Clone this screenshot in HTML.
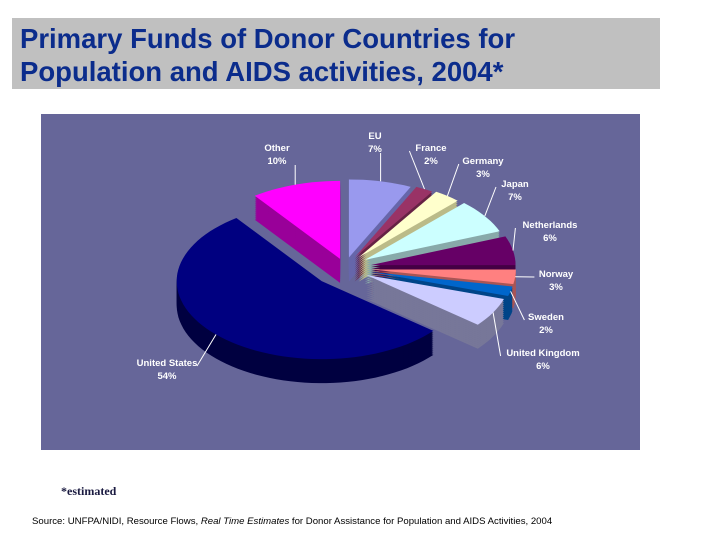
<!DOCTYPE html>
<html><head><meta charset="utf-8">
<style>
body{margin:0;width:720px;height:540px;background:#fff;overflow:hidden;font-family:"Liberation Sans",sans-serif;position:relative}
#title{position:absolute;left:12px;top:18px;width:648px;height:71px;background:#c0c0c0;color:#0b2c8c;font-weight:bold;font-size:27.5px;line-height:33px;padding:4px 0 0 8px;box-sizing:border-box}
#chart{position:absolute;left:0;top:0}
#est{position:absolute;left:61px;top:484px;font-family:"Liberation Serif",serif;font-weight:bold;font-size:12px;color:#1a1a40}
#src{position:absolute;left:32px;top:516px;font-size:9.6px;color:#000}
</style></head><body>
<div id="title">Primary Funds of Donor Countries for<br>Population and AIDS activities, 2004*</div>
<svg id="chart" width="720" height="540">
<rect x="41" y="114" width="599" height="336" fill="#666699"/>
<g id="pie"></g><g id="labels"></g>
</svg>
<div id="est">*estimated</div>
<div id="src">Source: UNFPA/NIDI, Resource Flows, <i>Real Time Estimates</i> for Donor Assistance for Population and AIDS Activities, 2004</div>
<script>
const categories=["EU","France","Germany","Japan","Netherlands","Norway","Sweden","United Kingdom","United States","Other"];
const values=[7,2,3,7,6,3,2,6,54,10];
const colors=["#9999ee","#993366","#ffffcc","#ccffff","#660066","#ff8080","#0066cc","#ccccff","#000080","#ff00ff"];
const sides=["#6666aa","#662244","#bbbb88","#88aaaa","#440044","#aa5555","#004488","#777799","#000040","#990099"];
const labelPos=[[375,135],[431,147],[483,160],[515,183],[550,224],[556,273],[546,316],[543,352],[167,362],[277,147]];
const explode=[18,20,22,24,26,26,26,24,32,16];
const cx=345,cy=268,rx=145,ry=78,depth=24;
const total=values.reduce((a,b)=>a+b,0);
const NS="http://www.w3.org/2000/svg";
const pie=document.getElementById('pie'),lab=document.getElementById('labels');
function pt(a,ox,oy,dy){return [cx+ox+rx*Math.cos(a),cy+oy+dy+ry*Math.sin(a)];}
function slicePath(a0,a1,ox,oy,dy){
 let d=`M${cx+ox},${cy+oy+dy}`;const n=Math.max(2,Math.ceil((a1-a0)/0.05));
 for(let i=0;i<=n;i++){const a=a0+(a1-a0)*i/n;const p=pt(a,ox,oy,dy);d+=`L${p[0].toFixed(1)},${p[1].toFixed(1)}`;}
 return d+'Z';}
let acc=0;const slices=[];
values.forEach((v,i)=>{const a0=-Math.PI/2+acc/total*2*Math.PI;acc+=v;const a1=-Math.PI/2+acc/total*2*Math.PI;
 const m=(a0+a1)/2;slices.push({i,a0,a1,m,ox:explode[i]*Math.cos(m),oy:explode[i]*Math.sin(m)*0.6});});
const order=slices.slice().sort((a,b)=>Math.sin(a.m)-Math.sin(b.m));
order.forEach(s=>{
 const g=document.createElementNS(NS,'g');
 
 
 for(let dy=depth;dy>0;dy-=2){const p=document.createElementNS(NS,'path');p.setAttribute('d',slicePath(s.a0,s.a1,s.ox,s.oy,dy));p.setAttribute('fill',sides[s.i]);g.appendChild(p);}
 const t=document.createElementNS(NS,'path');t.setAttribute('d',slicePath(s.a0,s.a1,s.ox,s.oy,0));t.setAttribute('fill',colors[s.i]);g.appendChild(t);
 pie.appendChild(g);});
slices.forEach(s=>{
 const [lx,ly]=labelPos[s.i];const e=pt(s.m,s.ox,s.oy,0);
 const l=document.createElementNS(NS,'polyline');
 const tx=lx<cx?lx+30:lx-(categories[s.i].length*2.6+6);
 l.setAttribute('points',`${e[0].toFixed(1)},${e[1].toFixed(1)} ${(s.i==0||s.i==9)?e[0].toFixed(1):tx},${(s.i==0||s.i==9)?ly+18:ly+4}`);
 l.setAttribute('fill','none');l.setAttribute('stroke','#fff');l.setAttribute('stroke-width','1');
 
 
 lab.appendChild(l);
 [categories[s.i],values[s.i]+'%'].forEach((txt,k)=>{const t=document.createElementNS(NS,'text');
  t.setAttribute('x',lx);t.setAttribute('y',ly+4+k*13);t.setAttribute('text-anchor','middle');
  t.setAttribute('font-size','9.5');t.setAttribute('font-weight','bold');t.setAttribute('fill','#fff');
  t.setAttribute('font-family','Liberation Sans, sans-serif');t.textContent=txt;
  
  
  lab.appendChild(t);});
});
</script>
</body></html>
